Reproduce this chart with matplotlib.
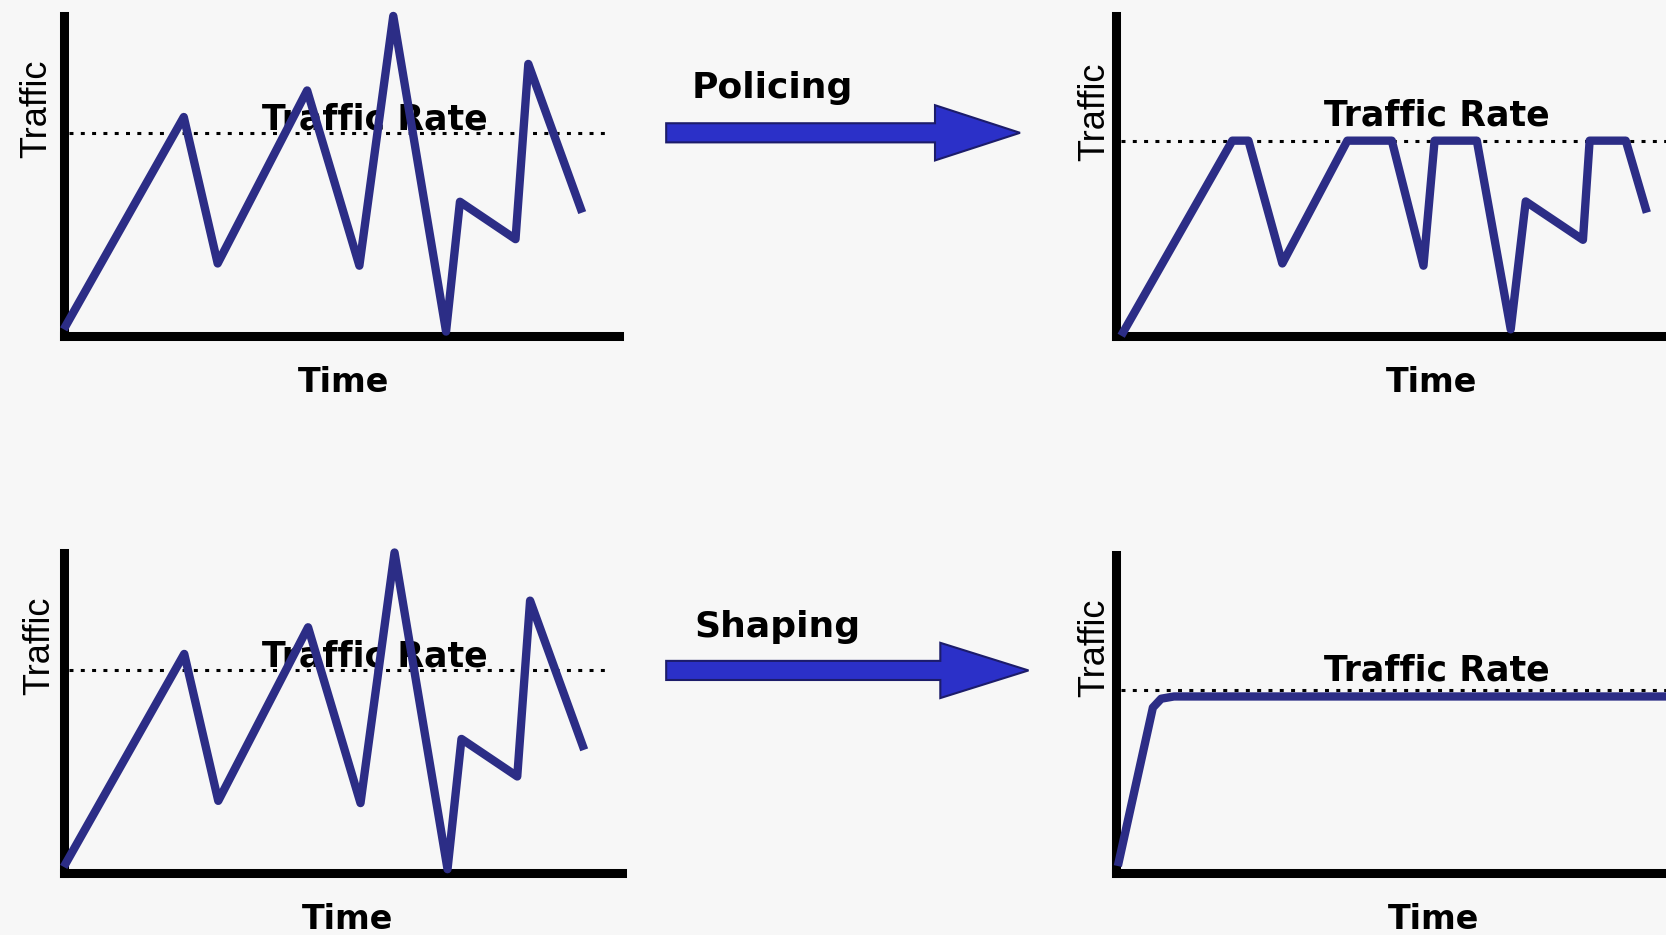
import matplotlib
matplotlib.use('Agg')
import matplotlib.pyplot as plt
from matplotlib.patches import FancyArrow

# data (time 0-100 across each x axis, traffic 0-100 up each y axis)
time_in = [0, 21.6, 27.7, 43.8, 53.2, 59.3, 68.8, 71.3, 81.3, 83.6, 93.3]
traffic_in = [2, 68.4, 22.6, 76.7, 21.9, 100, 1.3, 41.9, 30.2, 85, 38.5]

time_pol = [1, 21.0, 23.9, 30.0, 41.7, 49.7, 55.4, 57.4, 65.0, 71.1, 73.8, 84.1, 85.3, 91.8, 95.6]
traffic_pol = [0, 61, 61, 22.6, 61, 61, 21.9, 61, 61, 2, 42, 30, 61, 61, 38.5]

time_shape = [0.4, 6.7, 8.2, 10.5, 105]
traffic_shape = [2.3, 52, 54.8, 55.5, 55.5]

rate_in = 63.5
rate_pol = 60.8
rate_shape = 57.5

arrow_labels = ['Policing', 'Shaping']

bg = '#f7f7f7'
line_col = '#2c2d86'
arrow_col = '#2b30c8'

fig = plt.figure(figsize=(16.66, 9.35), dpi=100)
fig.patch.set_facecolor(bg)

# overlay in reference pixel coords (1568 x 880)
canvas = fig.add_axes([0, 0, 1, 1])
canvas.set_xlim(0, 1568)
canvas.set_ylim(880, 0)
canvas.axis('off')


def rect(left, top, right, bottom):
    return [left / 1568, 1 - bottom / 880, (right - left) / 1568, (bottom - top) / 880]


def panel(box, t, v, rate, rate_x):
    ax = fig.add_axes(rect(*box))
    ax.set_facecolor('none')
    ax.set_xlim(0, 100)
    ax.set_ylim(0, 100)
    for s in ['top', 'right']:
        ax.spines[s].set_visible(False)
    for s in ['left', 'bottom']:
        ax.spines[s].set_linewidth(6.5)
        ax.spines[s].set_color('black')
        ax.spines[s].set_capstyle('projecting')
    ax.set_xticks([])
    ax.set_yticks([])
    ax.plot(rate_x, [rate, rate], color='black', lw=2.2, ls=(0, (1.3, 2.4)), clip_on=False)
    ax.plot(t, v, color=line_col, lw=6, solid_joinstyle='round', solid_capstyle='butt',
            clip_on=False, zorder=4)
    return ax


panel((60, 15, 583, 316), time_in, traffic_in, rate_in, [1, 98])
panel((60, 520, 585, 822), time_in, traffic_in, rate_in, [1, 98])
panel((1050, 15, 1573, 316), time_pol, traffic_pol, rate_pol, [1, 100])
panel((1050, 522, 1573, 822), time_shape, traffic_shape, rate_shape, [1, 100])

bold = dict(family='DejaVu Sans', fontweight='bold', color='black', ha='center', va='center')
narrow = dict(family='Liberation Sans', color='black', ha='center', va='center', rotation=90)

# axis labels
for x, y in [(35, 102), (37, 608), (1030, 105), (1030, 610)]:
    canvas.text(x, y, 'Traffic', fontsize=26, **narrow)
for x, y in [(323, 360), (327, 865), (1347, 360), (1349, 865)]:
    canvas.text(x, y, 'Time', fontsize=24, **bold)
for x, y in [(353, 112), (353, 618), (1352, 109), (1352, 631)]:
    canvas.text(x, y, 'Traffic Rate', fontsize=25, **bold)

# arrows
canvas.add_patch(FancyArrow(627, 125, 333, 0, width=18, head_width=52, head_length=80,
                            length_includes_head=True, fc=arrow_col, ec='#1c1c6a', lw=1.5))
canvas.add_patch(FancyArrow(627, 631, 341, 0, width=18, head_width=52, head_length=83,
                            length_includes_head=True, fc=arrow_col, ec='#1c1c6a', lw=1.5))
canvas.text(727, 83, arrow_labels[0], fontsize=26, **bold)
canvas.text(732, 590, arrow_labels[1], fontsize=26, **bold)

fig.savefig('out.png', dpi=100, facecolor=bg)
